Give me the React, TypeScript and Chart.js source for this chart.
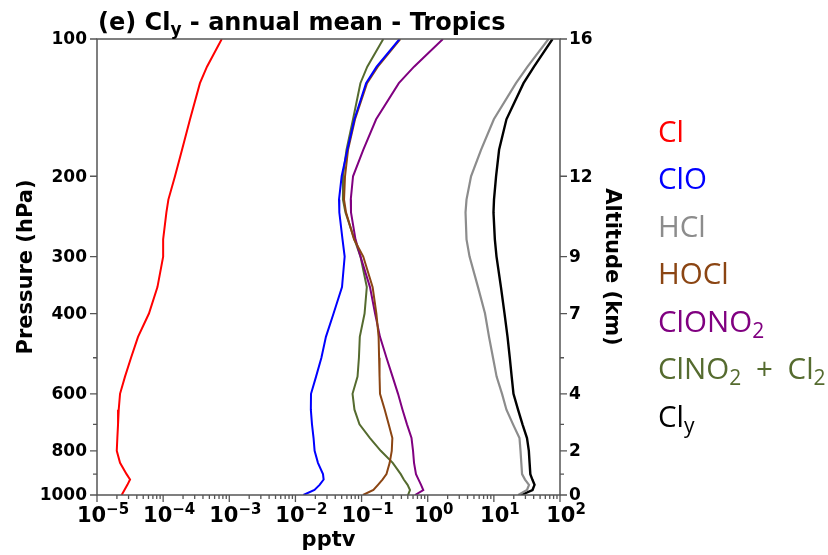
import { useEffect, useRef } from 'react';
import { Chart, registerables } from 'chart.js';

Chart.register(...registerables);

// Pressure levels (hPa), top to bottom
const pressureLevels = [100, 115, 125, 150, 175, 200, 225, 240, 275, 300, 350, 400, 450, 500, 550, 600, 650, 700, 750, 800, 850, 900, 925, 950, 975, 1000];

// Mixing ratios (pptv) at each pressure level
const clValues = [7.7e-4, 4.6e-4, 3.6e-4, 2.55e-4, 1.93e-4, 1.51e-4, 1.2e-4, 1.12e-4, 1.0e-4, 1.0e-4, 8.2e-5, 6.1e-5, 4.17e-5, 3.27e-5, 2.65e-5, 2.23e-5, 2.13e-5, 2.08e-5, 2.03e-5, 1.99e-5, 2.23e-5, 2.8e-5, 3.16e-5, 2.88e-5, 2.6e-5, 2.36e-5];
const cloValues = [0.375, 0.169, 0.117, 0.078, 0.061, 0.05, 0.0456, 0.0461, 0.0515, 0.0555, 0.0506, 0.0377, 0.0289, 0.0247, 0.0205, 0.0172, 0.0171, 0.0178, 0.0188, 0.0195, 0.0219, 0.0261, 0.0267, 0.0232, 0.0194, 0.0132];
const hclValues = [67.0, 32.3, 21.6, 10.0, 6.4, 4.52, 3.86, 3.73, 3.86, 4.29, 5.76, 7.35, 8.45, 9.71, 11.0, 13.3, 15.5, 19.5, 24.4, 25.3, 26.0, 26.7, 29.6, 34.0, 31.7, 23.4];
const hoclValues = [0.385, 0.176, 0.121, 0.0796, 0.0624, 0.0562, 0.0543, 0.0582, 0.0769, 0.106, 0.147, 0.1675, 0.181, 0.184, 0.187, 0.19, 0.224, 0.257, 0.292, 0.286, 0.266, 0.238, 0.207, 0.177, 0.151, 0.105];
const clono2Values = [1.7, 0.622, 0.366, 0.166, 0.106, 0.0743, 0.0686, 0.0692, 0.0809, 0.0963, 0.134, 0.16, 0.19, 0.238, 0.294, 0.356, 0.416, 0.486, 0.569, 0.6, 0.621, 0.665, 0.727, 0.793, 0.857, 0.643];
const clno2Cl2Values = [0.213, 0.122, 0.096, 0.0743, 0.0591, 0.0523, 0.0523, 0.0571, 0.0781, 0.0963, 0.12, 0.111, 0.094, 0.0912, 0.0869, 0.073, 0.0781, 0.093, 0.134, 0.195, 0.296, 0.391, 0.435, 0.496, 0.54, 0.504];
const clyValues = [77.1, 40.5, 28.1, 15.5, 12.0, 10.8, 10.05, 9.87, 10.35, 10.97, 12.8, 14.5, 16.1, 17.4, 18.6, 19.8, 23.2, 27.1, 31.7, 33.8, 34.7, 35.6, 38.2, 41.2, 38.4, 25.8];

// Axis ticks
const pressureMajorTicks = [100, 200, 300, 400, 600, 800, 1000];
const pressureMinorTicks = [500, 700, 900];
const altitudeLabels = ['16', '12', '9', '7', '4', '2', '0'];
const xDecades = [-5, -4, -3, -2, -1, 0, 1, 2];

// Legend labels as [text, isSubscript] segments
const legendCl: [string, boolean][] = [['Cl', false]];
const legendClO: [string, boolean][] = [['ClO', false]];
const legendHCl: [string, boolean][] = [['HCl', false]];
const legendHOCl: [string, boolean][] = [['HOCl', false]];
const legendClONO2: [string, boolean][] = [['ClONO', false], ['2', true]];
const legendClNO2Cl2: [string, boolean][] = [['ClNO', false], ['2', true], ['\u2002+\u2002', false], ['Cl', false], ['2', true]];
const legendCly: [string, boolean][] = [['Cl', false], ['y', true]];
const titleParts: [string, boolean][] = [['(e) Cl', false], ['y', true], [' - annual mean - Tropics', false]];

const series = [
  { values: clValues, color: '#ff0000', legend: legendCl, width: 2 },
  { values: cloValues, color: '#0000ff', legend: legendClO, width: 2 },
  { values: hclValues, color: '#8c8c8c', legend: legendHCl, width: 2.2 },
  { values: hoclValues, color: '#8b4513', legend: legendHOCl, width: 2 },
  { values: clono2Values, color: '#800080', legend: legendClONO2, width: 2 },
  { values: clno2Cl2Values, color: '#556b2f', legend: legendClNO2Cl2, width: 2 },
  { values: clyValues, color: '#000000', legend: legendCly, width: 2.4 },
];

const DJ = '"DejaVu Sans"';

function drawRich(ctx: CanvasRenderingContext2D, x: number, y: number, parts: [string, boolean][], mainFont: string, subFont: string, subDrop: number) {
  let cx = x;
  for (const [txt, sub] of parts) {
    ctx.font = sub ? subFont : mainFont;
    ctx.fillText(txt, cx, sub ? y + subDrop : y);
    cx += ctx.measureText(txt).width;
  }
}

const overlayPlugin = {
  id: 'overlay',
  afterDraw(chart: any) {
    const ctx: CanvasRenderingContext2D = chart.ctx;
    const { left, right, top, bottom } = chart.chartArea;
    const xs = chart.scales.x;
    const ys = chart.scales.y;
    ctx.save();
    ctx.fillStyle = '#000';
    ctx.strokeStyle = '#555';
    ctx.lineWidth = 1.5;
    ctx.strokeRect(left, top, right - left, bottom - top);

    // Y ticks (left and right)
    ctx.lineWidth = 1.3;
    ctx.font = `bold 17px ${DJ}`;
    ctx.textBaseline = 'middle';
    pressureMajorTicks.forEach((p, i) => {
      const py = ys.getPixelForValue(p);
      ctx.beginPath();
      ctx.moveTo(left, py); ctx.lineTo(left - 7, py);
      ctx.moveTo(right, py); ctx.lineTo(right + 7, py);
      ctx.stroke();
      ctx.textAlign = 'right';
      ctx.fillText(String(p), left - 10, py + 1);
      ctx.textAlign = 'left';
      ctx.fillText(altitudeLabels[i], right + 9, py + 1);
    });
    pressureMinorTicks.forEach((p) => {
      const py = ys.getPixelForValue(p);
      ctx.beginPath();
      ctx.moveTo(left, py); ctx.lineTo(left - 4, py);
      ctx.moveTo(right, py); ctx.lineTo(right + 4, py);
      ctx.stroke();
    });

    // X ticks
    xDecades.forEach((k) => {
      const px = xs.getPixelForValue(Math.pow(10, k));
      ctx.beginPath();
      ctx.moveTo(px, bottom); ctx.lineTo(px, bottom + 7);
      ctx.stroke();
      if (k < 2) {
        for (let m = 2; m <= 9; m++) {
          const mx = xs.getPixelForValue(m * Math.pow(10, k));
          ctx.beginPath();
          ctx.moveTo(mx, bottom); ctx.lineTo(mx, bottom + 4);
          ctx.stroke();
        }
      }
      const base = '10';
      const sup = k < 0 ? '\u2212' + String(-k) : String(k);
      ctx.font = `bold 21px ${DJ}`;
      const wb = ctx.measureText(base).width;
      ctx.font = `bold 15px ${DJ}`;
      const ws = ctx.measureText(sup).width;
      const x0 = px + 6 - (wb + ws) / 2;
      ctx.textAlign = 'left';
      ctx.textBaseline = 'alphabetic';
      ctx.font = `bold 21px ${DJ}`;
      ctx.fillText(base, x0, 522);
      ctx.font = `bold 15px ${DJ}`;
      ctx.fillText(sup, x0 + wb, 514);
    });

    // Axis titles
    ctx.font = `bold 21px ${DJ}`;
    ctx.textAlign = 'center';
    ctx.textBaseline = 'alphabetic';
    ctx.fillText('pptv', (left + right) / 2, 546);
    ctx.save();
    ctx.translate(32, (top + bottom) / 2);
    ctx.rotate(-Math.PI / 2);
    ctx.fillText('Pressure (hPa)', 0, 0);
    ctx.restore();
    ctx.save();
    ctx.translate(606, (top + bottom) / 2);
    ctx.rotate(Math.PI / 2);
    ctx.fillText('Altitude (km)', 0, 0);
    ctx.restore();

    // Title
    ctx.textAlign = 'left';
    drawRich(ctx, 98, 30, titleParts, `bold 24px ${DJ}`, `bold 17px ${DJ}`, 5);

    // Legend
    series.forEach((s, i) => {
      ctx.fillStyle = s.color;
      drawRich(ctx, 658, 141.5 + i * 47.5, s.legend, '29.5px "Open Sans"', '21px "Open Sans"', 6);
    });
    ctx.restore();
  },
};

export default function App() {
  const canvasRef = useRef<HTMLCanvasElement | null>(null);
  useEffect(() => {
    const canvas = canvasRef.current;
    if (!canvas) return;
    const chart = new Chart(canvas, {
      type: 'scatter',
      data: {
        datasets: series.map((s) => ({
          data: pressureLevels.map((p, i) => ({ x: s.values[i], y: p })),
          borderColor: s.color,
          backgroundColor: s.color,
          borderWidth: s.width,
          showLine: true,
          pointRadius: 0,
          tension: 0,
          fill: false,
        })),
      },
      options: {
        responsive: false,
        animation: false,
        maintainAspectRatio: false,
        layout: { padding: { left: 97, top: 39, right: 268, bottom: 60 } },
        plugins: { legend: { display: false }, tooltip: { enabled: false }, title: { display: false } },
        scales: {
          x: { type: 'logarithmic', min: 1e-5, max: 100, display: false },
          y: { type: 'logarithmic', min: 100, max: 1000, reverse: true, display: false },
        },
      },
      plugins: [overlayPlugin],
    } as any);
    return () => chart.destroy();
  }, []);
  return (
    <div style={{ position: 'absolute', left: 0, top: 0, width: 828, height: 555, background: '#fff' }}>
      <canvas ref={canvasRef} width={828} height={555} style={{ display: 'block', width: 828, height: 555 }} />
    </div>
  );
}
